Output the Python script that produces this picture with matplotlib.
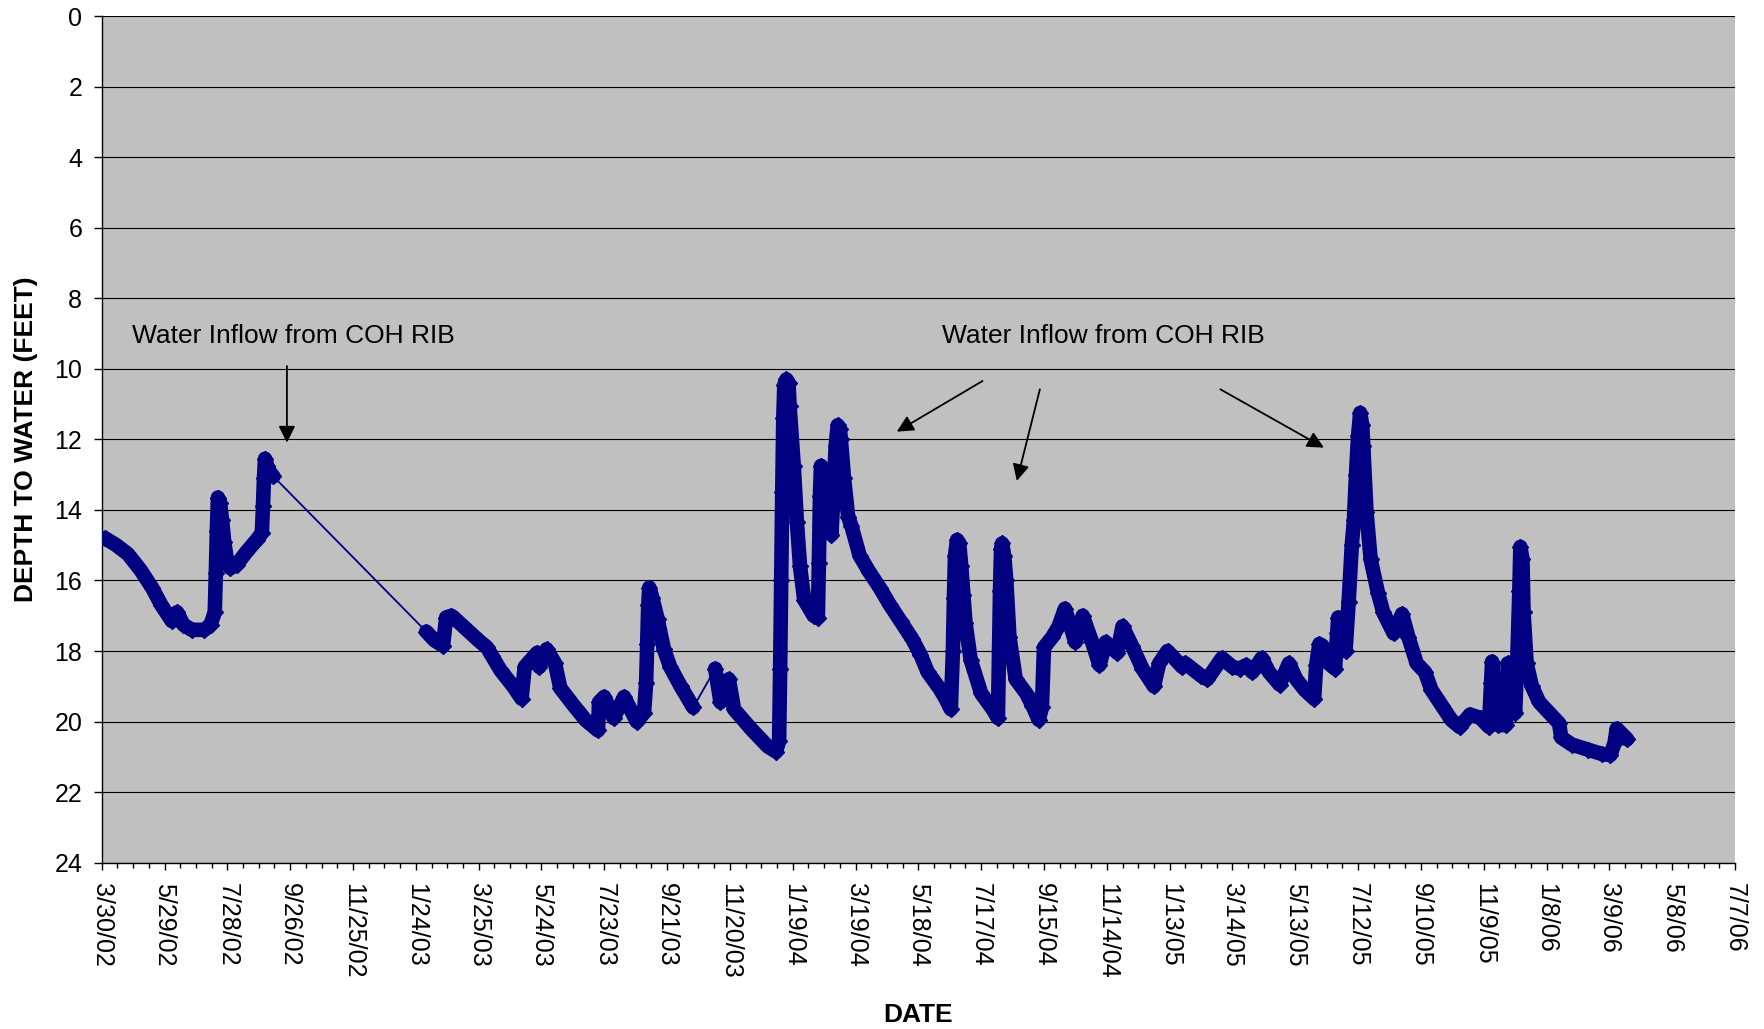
import matplotlib
matplotlib.use('Agg')
import matplotlib.pyplot as plt
import numpy as np
import pandas as pd

plt.rcParams['font.family'] = ['Liberation Sans', 'DejaVu Sans']

# ---------------- data ----------------
dates = [
    '2002-04-02', '2002-04-13', '2002-04-24', '2002-05-06', '2002-05-17', '2002-05-26',
    '2002-06-05', '2002-06-10', '2002-06-16', '2002-06-24', '2002-07-06', '2002-07-12',
    '2002-07-16', '2002-07-17', '2002-07-18', '2002-07-19', '2002-07-21', '2002-07-23',
    '2002-07-25', '2002-07-28', '2002-07-31', '2002-08-06', '2002-08-15', '2002-08-25',
    '2002-08-30', '2002-08-31', '2002-09-01', '2002-09-02', '2002-09-04', '2002-09-07',
    '2002-09-10',
    '2003-02-03', '2003-02-11', '2003-02-19', '2003-02-22', '2003-02-27', '2003-03-03',
    '2003-03-14', '2003-03-25', '2003-04-02', '2003-04-07', '2003-04-15', '2003-04-27',
    '2003-05-05', '2003-05-08', '2003-05-14', '2003-05-20', '2003-05-22', '2003-05-29',
    '2003-06-06', '2003-06-11', '2003-06-24', '2003-07-05', '2003-07-17', '2003-07-18',
    '2003-07-23', '2003-08-01', '2003-08-11', '2003-08-23', '2003-08-30', '2003-09-01',
    '2003-09-02', '2003-09-03', '2003-09-04', '2003-09-07', '2003-09-12', '2003-09-18',
    '2003-09-24', '2003-10-04', '2003-10-16',
    '2003-11-06', '2003-11-11', '2003-11-19', '2003-11-24', '2003-12-10', '2003-12-26',
    '2004-01-03', '2004-01-06', '2004-01-07', '2004-01-08', '2004-01-09', '2004-01-10',
    '2004-01-11', '2004-01-13', '2004-01-15', '2004-01-16', '2004-01-20', '2004-01-23',
    '2004-01-26', '2004-01-30', '2004-02-08', '2004-02-12', '2004-02-13', '2004-02-14',
    '2004-02-15', '2004-02-18', '2004-02-21', '2004-02-25', '2004-02-27', '2004-02-29',
    '2004-03-02', '2004-03-04', '2004-03-05', '2004-03-08', '2004-03-12', '2004-03-15',
    '2004-03-23', '2004-04-01', '2004-04-11', '2004-04-21', '2004-05-01', '2004-05-12',
    '2004-05-20', '2004-05-27', '2004-06-07', '2004-06-13', '2004-06-18', '2004-06-20',
    '2004-06-21', '2004-06-22', '2004-06-24', '2004-06-26', '2004-06-28', '2004-06-30',
    '2004-07-02', '2004-07-07', '2004-07-17', '2004-07-28', '2004-08-02', '2004-08-03',
    '2004-08-04', '2004-08-05', '2004-08-06', '2004-08-08', '2004-08-10', '2004-08-13',
    '2004-08-19', '2004-08-29', '2004-09-04', '2004-09-10', '2004-09-13', '2004-09-15',
    '2004-09-23', '2004-09-29', '2004-10-05', '2004-10-15', '2004-10-22', '2004-10-31',
    '2004-11-07', '2004-11-13', '2004-11-24', '2004-11-29', '2004-12-08', '2004-12-18',
    '2004-12-29',
    '2005-01-03', '2005-01-11', '2005-01-25', '2005-01-28', '2005-02-12', '2005-02-18',
    '2005-03-04', '2005-03-14', '2005-03-21', '2005-03-27', '2005-04-02', '2005-04-11',
    '2005-04-18', '2005-04-28', '2005-05-07', '2005-05-14', '2005-05-22', '2005-05-31',
    '2005-06-02', '2005-06-05', '2005-06-08', '2005-06-14', '2005-06-20', '2005-06-22',
    '2005-06-23', '2005-06-27', '2005-06-30', '2005-07-03', '2005-07-06', '2005-07-08',
    '2005-07-10', '2005-07-12', '2005-07-14', '2005-07-16', '2005-07-17', '2005-07-20',
    '2005-07-24', '2005-07-31', '2005-08-05', '2005-08-15', '2005-08-23', '2005-08-29',
    '2005-09-06', '2005-09-14', '2005-09-20', '2005-09-30', '2005-10-09', '2005-10-17',
    '2005-10-27', '2005-11-06', '2005-11-14', '2005-11-16', '2005-11-17', '2005-11-19',
    '2005-11-23', '2005-11-30', '2005-12-01', '2005-12-02', '2005-12-05', '2005-12-09',
    '2005-12-11', '2005-12-13', '2005-12-14', '2005-12-16', '2005-12-17', '2005-12-20',
    '2005-12-25', '2006-01-01', '2006-01-12', '2006-01-20', '2006-01-22', '2006-02-01',
    '2006-02-17', '2006-03-02', '2006-03-10', '2006-03-14', '2006-03-16', '2006-03-26',
]

depth_ft = [
    14.80, 15.00, 15.25, 15.70, 16.20, 16.70,
    17.15, 16.90, 17.25, 17.40, 17.40, 17.25,
    16.90, 15.80, 14.60, 13.65, 13.80, 14.30,
    14.90, 15.50, 15.65, 15.55, 15.20, 14.85,
    14.65, 13.90, 13.10, 12.55, 12.75, 12.95,
    13.05,
    17.45, 17.70, 17.85, 17.05, 17.00, 17.10,
    17.40, 17.70, 17.90, 18.15, 18.55, 19.00,
    19.35, 18.45, 18.25, 18.05, 18.45, 17.95,
    18.35, 19.05, 19.55, 19.95, 20.25, 19.45,
    19.30, 19.90, 19.30, 20.00, 19.75, 18.90,
    17.80, 16.70, 16.20, 16.50, 17.10, 17.95,
    18.45, 19.00, 19.60,
    18.50, 19.45, 18.80, 19.65, 20.20, 20.70,
    20.85, 20.55, 18.50, 16.00, 13.50, 11.40,
    10.45, 10.30, 10.40, 11.05, 12.75, 14.35,
    15.60, 16.55, 17.00, 17.05, 15.50, 13.60,
    12.75, 12.90, 13.80, 14.70, 13.50, 12.20,
    11.60, 11.70, 12.00, 13.10, 14.20, 14.45,
    15.30, 15.75, 16.20, 16.70, 17.15, 17.65,
    18.10, 18.60, 19.05, 19.35, 19.65, 18.00,
    16.50, 15.30, 14.85, 14.95, 15.60, 16.40,
    17.20, 18.25, 19.20, 19.65, 19.90, 18.00,
    16.30, 15.10, 14.95, 15.30, 16.00, 17.60,
    18.80, 19.20, 19.55, 19.95, 19.60, 17.90,
    17.60, 17.30, 16.80, 17.75, 17.00, 17.75,
    18.40, 17.75, 18.05, 17.30, 17.85, 18.50,
    19.00,
    18.35, 18.00, 18.45, 18.35, 18.70, 18.80,
    18.20, 18.45, 18.50, 18.40, 18.60, 18.20,
    18.60, 18.95, 18.35, 18.80, 19.10, 19.35,
    18.40, 17.80, 17.85, 18.35, 18.50, 17.50,
    17.05, 17.60, 18.00, 16.60, 15.00, 14.30,
    13.00, 11.90, 11.25, 11.60, 12.20, 14.05,
    15.40, 16.35, 16.90, 17.50, 16.95, 17.60,
    18.35, 18.60, 19.10, 19.55, 19.95, 20.15,
    19.80, 19.90, 20.15, 18.90, 18.30, 19.10,
    20.10, 20.10, 19.20, 18.35, 19.10, 19.75,
    18.30, 16.30, 15.05, 15.40, 16.90, 18.35,
    19.00, 19.45, 19.80, 20.05, 20.45, 20.65,
    20.80, 20.92, 20.95, 20.60, 20.20, 20.50,
]

tick_labels = ['3/30/02', '5/29/02', '7/28/02', '9/26/02', '11/25/02', '1/24/03',
               '3/25/03', '5/24/03', '7/23/03', '9/21/03', '11/20/03', '1/19/04',
               '3/19/04', '5/18/04', '7/17/04', '9/15/04', '11/14/04', '1/13/05',
               '3/14/05', '5/13/05', '7/12/05', '9/10/05', '11/9/05', '1/8/06',
               '3/9/06', '5/8/06', '7/7/06']
y_ticks = [0, 2, 4, 6, 8, 10, 12, 14, 16, 18, 20, 22, 24]

annotation_text = 'Water Inflow from COH RIB'

# ---------------- figure ----------------
W, H = 1764, 1029
fig = plt.figure(figsize=(W / 100, H / 100), dpi=100)
left_px, right_px, top_px, bot_px = 101.7, 1735.0, 16.0, 862.7
ax = fig.add_axes([left_px / W, 1 - bot_px / H, (right_px - left_px) / W, (bot_px - top_px) / H])
ax.set_facecolor('#C0C0C0')

navy = '#000080'
x = pd.to_datetime(dates)
y = np.array(depth_ft)

# thick band for continuous records (break at long data gaps)
gaps = np.where(np.diff(x.values).astype('timedelta64[D]').astype(int) > 18)[0] + 1
starts = np.r_[0, gaps]
ends = np.r_[gaps, len(x)]
for s, e in zip(starts, ends):
    ax.plot(x[s:e], y[s:e], color=navy, lw=10.5, solid_joinstyle='round',
            solid_capstyle='round', zorder=3)
ax.plot(x, y, color=navy, lw=1.3, marker='D', ms=8.4, mfc=navy, mec=navy, zorder=4)

# axes
tick_pos = pd.to_datetime(tick_labels, format='%m/%d/%y')
ax.set_xlim(tick_pos[0], tick_pos[-1])
ax.set_xticks(tick_pos)
ax.set_xticklabels(tick_labels, rotation=-90, ha='center', va='top')
ax.set_xticks(pd.date_range(tick_pos[0], tick_pos[-1], freq='15D'), minor=True)
ax.set_ylim(24, 0)
ax.set_yticks(y_ticks)

ax.yaxis.grid(True, color='black', lw=0.8)
ax.set_axisbelow(True)
for sp in ['top', 'right']:
    ax.spines[sp].set_visible(False)
for sp in ['left', 'bottom']:
    ax.spines[sp].set_color('black')
    ax.spines[sp].set_linewidth(1.0)

ax.tick_params(axis='y', which='major', length=6, width=1, pad=8, labelsize=18)
ax.tick_params(axis='x', which='major', length=5.3, width=1, pad=9, labelsize=18)
ax.tick_params(axis='x', which='minor', length=3.4, width=1)

ax.set_xlabel('DATE', fontsize=19, fontweight='bold', labelpad=18)
ax.set_ylabel('DEPTH TO WATER (FEET)', fontsize=19, fontweight='bold', labelpad=12)

# annotations
ax.text(0.0184, 0.622, annotation_text, transform=ax.transAxes, fontsize=19,
        ha='left', va='center')
ax.text(0.5143, 0.622, annotation_text, transform=ax.transAxes, fontsize=19,
        ha='left', va='center')
arrow_kw = dict(arrowstyle='-|>', color='black', lw=1.3, mutation_scale=25,
                shrinkA=0, shrinkB=0)
arrows = [((0.1134, 0.5866), (0.1134, 0.4961)),
          ((0.5393, 0.5689), (0.4868, 0.5091)),
          ((0.5744, 0.5591), (0.5603, 0.4509)),
          ((0.6849, 0.5591), (0.7483, 0.4902))]
for (x0, y0), (x1, y1) in arrows:
    ax.annotate('', xy=(x1, y1), xytext=(x0, y0), xycoords='axes fraction',
                textcoords='axes fraction', arrowprops=arrow_kw)

fig.savefig('out.png', dpi=100, facecolor='white')
